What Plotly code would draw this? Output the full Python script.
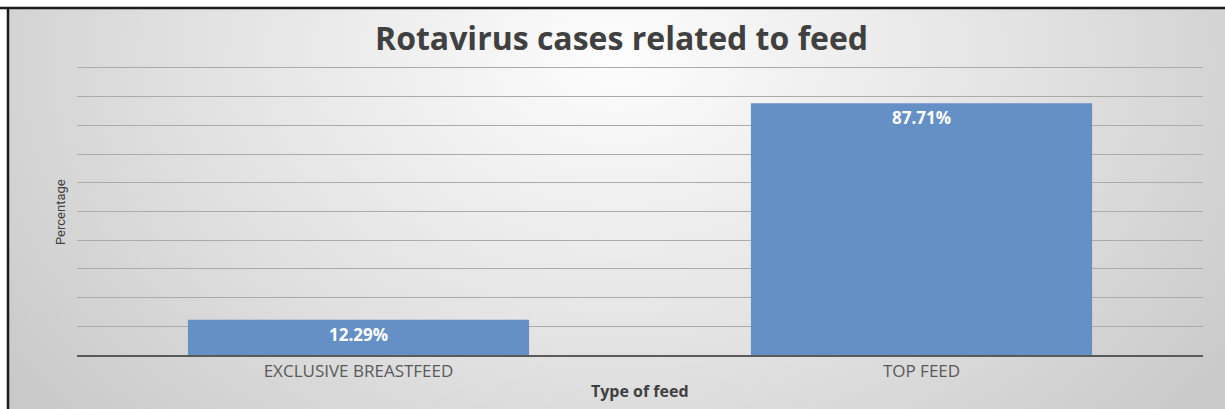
import base64
import plotly.graph_objects as go

# ---- data ----
categories = ["EXCLUSIVE BREASTFEED", "TOP FEED"]
percentages = [12.29, 87.71]
labels = ["12.29%", "87.71%"]
grid_values = [10, 20, 30, 40, 50, 60, 70, 80, 90, 100]
title_text = "Rotavirus cases related to feed"
x_title = "Type of feed"
y_title = "Percentage"

# ---- layout geometry (pixels) ----
W, H = 1225, 409
L, R, T, B = 77, 22, 65, 54
PW, PH = W - L - R, H - T - B

def px_x(x):
    return (x - L) / PW

def px_y(y):
    return (H - B - y) / PH

svg = """<svg xmlns='http://www.w3.org/2000/svg' width='1217' height='401' preserveAspectRatio='none' viewBox='0 0 1217 401'>
<defs><radialGradient id='g' cx='0.5' cy='0.12' r='0.62' gradientTransform='translate(0.5 0.12) scale(1 2.2) translate(-0.5 -0.12)'>
<stop offset='0' stop-color='#fdfdfd'/><stop offset='0.55' stop-color='#e2e2e2'/><stop offset='1' stop-color='#c9c9c9'/></radialGradient></defs>
<rect x='0' y='0' width='1217' height='401' fill='url(#g)'/></svg>"""
svg_uri = "data:image/svg+xml;base64," + base64.b64encode(svg.encode()).decode()

fig = go.Figure(
    go.Bar(
        x=categories,
        y=percentages,
        text=labels,
        textposition="inside",
        insidetextanchor="end",
        textfont=dict(family="Open Sans", size=17, color="white", weight="bold"),
        marker=dict(color="#6590c6", line=dict(width=0)),
        width=0.606,
        cliponaxis=False,
    )
)

fig.update_layout(
    width=W,
    height=H,
    margin=dict(l=L, r=R, t=T, b=B, pad=0),
    paper_bgcolor="white",
    plot_bgcolor="rgba(0,0,0,0)",
    showlegend=False,
    bargap=0.394,
    images=[
        dict(
            source=svg_uri,
            xref="paper", yref="paper",
            x=px_x(8), y=px_y(8),
            sizex=px_x(W) - px_x(8), sizey=px_y(8) - px_y(H),
            xanchor="left", yanchor="top",
            sizing="stretch", layer="below",
        )
    ],
    shapes=[
        dict(type="line", xref="paper", yref="paper",
             x0=px_x(0), x1=px_x(W), y0=px_y(8), y1=px_y(8),
             line=dict(color="#1a1a1a", width=2.5), layer="above"),
        dict(type="line", xref="paper", yref="paper",
             x0=px_x(8), x1=px_x(8), y0=px_y(8), y1=px_y(H),
             line=dict(color="#1a1a1a", width=2.5), layer="above"),
    ],
    annotations=[
        dict(text=title_text, xref="paper", yref="paper",
             x=px_x(621), y=px_y(37), xanchor="center", yanchor="middle",
             showarrow=False,
             font=dict(family="Open Sans", size=32, color="#404040", weight="bold")),
        dict(text=y_title, xref="paper", yref="paper",
             x=px_x(60), y=px_y(212), xanchor="center", yanchor="middle",
             textangle=-90, showarrow=False,
             font=dict(family="Roboto", size=13, color="#404040")),
        dict(text=x_title, xref="paper", yref="paper",
             x=px_x(640), y=px_y(391), xanchor="center", yanchor="middle",
             showarrow=False,
             font=dict(family="Open Sans", size=16, color="#404040", weight="bold")),
    ],
    xaxis=dict(
        showgrid=False,
        showline=True, linecolor="#5a5a5a", linewidth=2,
        ticks="", ticklen=0,
        tickfont=dict(family="Open Sans", size=17, color="#595959"),
        zeroline=False,
    ),
    yaxis=dict(
        range=[0, 101],
        tickvals=grid_values,
        showgrid=True, gridcolor="#ababab", gridwidth=1,
        showticklabels=False,
        zeroline=False,
        showline=False,
        ticks="",
    ),
)

fig.write_html(
    "out.html",
    config={"displayModeBar": False},
    post_script="document.body.style.margin='0px';",
)
